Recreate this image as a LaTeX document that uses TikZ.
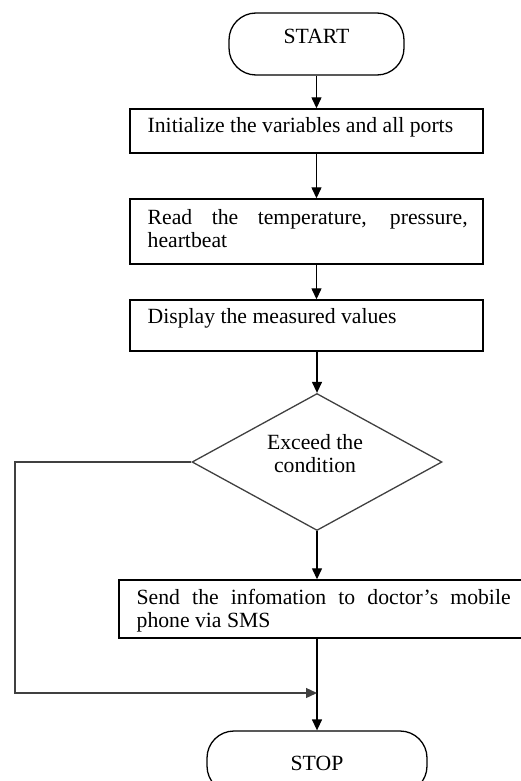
\documentclass[tikz,border=0pt]{standalone}
\usepackage{fontspec}
\setmainfont{Liberation Serif}
\usetikzlibrary{arrows.meta,shapes.geometric}
\begin{document}
\begin{tikzpicture}[x=1pt,y=-1pt,
  line width=1.3pt,
  box/.style={draw, rectangle, inner sep=0, minimum width=353, line width=1.4pt},
  term/.style={draw, rectangle, rounded corners=27pt, inner sep=0, minimum width=175, minimum height=62, line width=1.3pt},
  dia/.style={draw, diamond, inner sep=0, minimum width=250, minimum height=137, line width=1.3pt, draw=black!75},
  txt/.style={inner sep=0, font=\fontsize{21.7}{23}\selectfont, align=left},
  arr/.style={-{Triangle[length=11pt,width=10pt]}},
  ln/.style={draw=black!75}]
\useasboundingbox (0,0) rectangle (521,781);
\clip (0,0) rectangle (521,781);
% terminals
\node[term] (start) at (316.5,44) {};
\node[txt, anchor=base] (startT) at (316.5,44) {START};
% process boxes
\node[box, minimum height=44] (init) at (306.5,131) {};
\node[txt, anchor=base west] (initT) at (147,132) {Initialize the variables and all ports};
\node[box, minimum height=65] (read) at (306.5,231.5) {};
\node[txt, anchor=base west] (readT) at (147,247) {\makebox[320pt][s]{Read the temperature, pressure,}\\heartbeat};
\node[box, minimum height=51] (disp) at (306.5,325.5) {};
\node[txt, anchor=base west] (dispT) at (147,323) {Display the measured values};
% decision
\node[dia] (dec) at (317,462) {};
\node[txt, anchor=base, align=center] (decT) at (315,472) {Exceed the\\condition};
% send
\node[box, minimum width=410, minimum height=58] (send) at (324,609) {};
\node[txt, anchor=base west] (sendT) at (136,627) {\makebox[374pt][s]{Send the infomation to doctor’s mobile}\\phone via SMS};
% stop
\node[term, minimum width=220] (stop) at (317,762) {};
\node[txt, anchor=base] (stopT) at (317,770) {STOP};
% connectors
\draw[arr] (start.south) -- (start.south |- init.north);
\draw[arr] (init.south -| start.south) -- (read.north -| start.south);
\draw[arr] (read.south -| start.south) -- (disp.north -| start.south);
\draw[arr] (disp.south -| dec.north) -- (dec.north);
\draw[arr] (dec.south) -- (send.north -| dec.south);
\draw[arr] (send.south -| stop.north) -- (stop.north);
\coordinate (corner) at (15,693);
\draw[arr, ln] (dec.west) -| (corner) -- (corner -| stop.north);
\end{tikzpicture}
\end{document}
